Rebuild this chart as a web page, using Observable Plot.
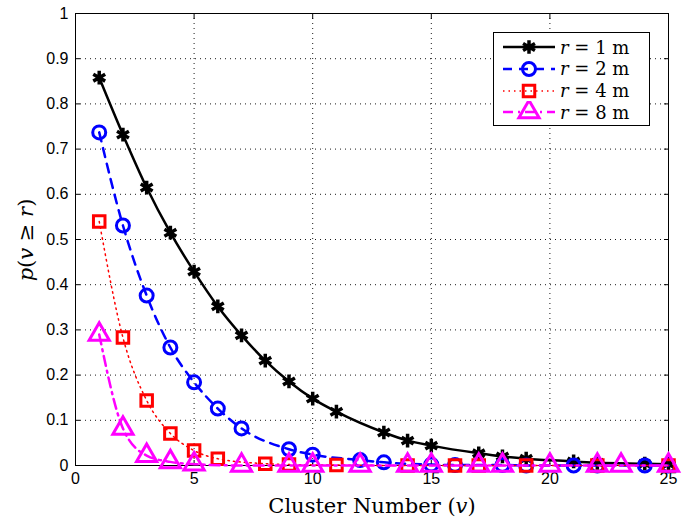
<!DOCTYPE html>
<html>
<head>
<meta charset="utf-8">
<script src="https://cdn.jsdelivr.net/npm/d3@7"></script>
<script src="https://cdn.jsdelivr.net/npm/@observablehq/plot@0.6"></script>
<style>
  body { margin: 0; background: #fff; }
  #wrap { position: relative; width: 697px; height: 521px; }
  #legend { position: absolute; left: 493px; top: 32px; width: 157px; height: 94px; border: 1.5px solid #000; background: #fff; box-sizing: border-box; }
  #legend .row { position: absolute; left: 0; height: 22px; display: flex; align-items: center; }
  #legend .lab { font-family: "DejaVu Serif", "Liberation Serif", serif; font-size: 18px; margin-left: 3px; white-space: nowrap; }
  #legend .lab i { font-style: italic; }
</style>
</head>
<body>
<div id="wrap"></div>
<script>
// ---- data ----
const seriesNames = ["r = 1 m", "r = 2 m", "r = 4 m", "r = 8 m"];
const r1x = [1,2,3,4,5,6,7,8,9,10,11,13,14,15,17,18,19,21,22,24,25];
const r1y = [0.858,0.732,0.615,0.515,0.429,0.352,0.288,0.232,0.186,0.148,0.119,0.073,0.055,0.044,0.027,0.020,0.015,0.009,0.006,0.004,0.003];
const r2x = [1,2,3,4,5,6,7,9,10,12,13,15,16,18,19,21,22,24,25];
const r2y = [0.737,0.531,0.376,0.261,0.184,0.126,0.082,0.036,0.024,0.012,0.007,0.002,0.001,0.001,0,0,0,0,0];
const r4x = [1,2,3,4,5,6,8,9,11,14,16,17,19,22,25];
const r4y = [0.540,0.283,0.144,0.071,0.033,0.015,0.004,0.002,0.001,0,0,0,0,0,0];
const r8x = [1,2,3,4,5,7,9,10,12,14,15,17,18,20,22,23,25];
const r8y = [0.290,0.082,0.022,0.008,0.003,0,0,0,0,0,0,0,0,0,0,0,0];
const xTicks = [0,5,10,15,20,25];
const yTicks = [0,0.1,0.2,0.3,0.4,0.5,0.6,0.7,0.8,0.9,1];
const yTickLabels = ["0","0.1","0.2","0.3","0.4","0.5","0.6","0.7","0.8","0.9","1"];

const mk = (xs, ys) => xs.map((x, i) => ({x, y: ys[i]}));
const d1 = mk(r1x, r1y), d2 = mk(r2x, r2y), d4 = mk(r4x, r4y), d8 = mk(r8x, r8y);

const tickFont = "Liberation Sans, Arial, sans-serif";

const chart = Plot.plot({
  width: 697,
  height: 521,
  marginLeft: 75,
  marginRight: 29,
  marginTop: 13,
  marginBottom: 56,
  style: {fontFamily: tickFont, fontSize: "16px", background: "#fff", color: "#000"},
  x: {domain: [0, 25], ticks: xTicks},
  y: {domain: [0, 1], ticks: yTicks},
  marks: [
    Plot.gridX(xTicks, {stroke: "#000", strokeOpacity: 0.9, strokeDasharray: "1,4"}),
    Plot.gridY(yTicks, {stroke: "#000", strokeOpacity: 0.9, strokeDasharray: "1,4"}),
    Plot.axisX(xTicks, {tickSize: -5, tickPadding: 12, label: null, fontSize: 16, stroke: "#000"}),
    Plot.axisX(xTicks, {anchor: "top", tickSize: -5, tickFormat: () => "", label: null}),
    Plot.axisY(yTicks, {tickSize: -5, tickPadding: 12, label: null, fontSize: 16, tickFormat: (d) => yTickLabels[yTicks.indexOf(d)]}),
    Plot.axisY(yTicks, {anchor: "right", tickSize: -5, tickFormat: () => "", label: null}),
    Plot.frame({stroke: "#000", strokeWidth: 1}),
    // r = 1 m
    Plot.line(d1, {x: "x", y: "y", stroke: "#000", strokeWidth: 2.5, curve: "monotone-x"}),
    Plot.dot(d1, {x: "x", y: "y", symbol: "asterisk", r: 6.5, stroke: "#000", strokeWidth: 3.5}),
    // r = 2 m
    Plot.line(d2, {x: "x", y: "y", stroke: "#0000ff", strokeWidth: 2.5, strokeDasharray: "9,7", curve: "monotone-x"}),
    Plot.dot(d2, {x: "x", y: "y", symbol: "circle", r: 6.5, stroke: "#0000ff", strokeWidth: 3, fill: "none"}),
    // r = 4 m
    Plot.line(d4, {x: "x", y: "y", stroke: "#ff0000", strokeWidth: 1.5, strokeDasharray: "1.5,4", curve: "monotone-x"}),
    Plot.dot(d4, {x: "x", y: "y", symbol: "square", r: 6.5, stroke: "#ff0000", strokeWidth: 3, fill: "none"}),
    // r = 8 m
    Plot.line(d8, {x: "x", y: "y", stroke: "#ff00ff", strokeWidth: 2.5, strokeDasharray: "10,5,2,5", curve: "monotone-x"}),
    Plot.dot(d8, {x: "x", y: "y", symbol: "triangle", r: 7.5, stroke: "#ff00ff", strokeWidth: 3, fill: "none"}),
    // x axis label
    Plot.text(["Cluster Number (v)"], {frameAnchor: "bottom", dy: 47, text: d => d, fontFamily: "DejaVu Serif, Liberation Serif, serif", fontSize: 21}),
  ]
});

const wrap = document.getElementById("wrap");
wrap.appendChild(chart);

// x label: make "v" italic
const svg = d3.select(chart);
svg.selectAll("text").filter(function() { return this.textContent === "Cluster Number (v)"; })
  .each(function() {
    const t = d3.select(this);
    t.text(null);
    t.append("tspan").text("Cluster Number (");
    t.append("tspan").attr("font-style", "italic").text("v");
    t.append("tspan").text(")");
  });

// y label (rotated), italic LaTeX-like
svg.append("text")
  .attr("transform", "translate(33,240) rotate(-90)")
  .attr("text-anchor", "middle")
  .attr("font-family", "DejaVu Serif, Liberation Serif, serif")
  .attr("font-size", 21)
  .call(t => {
    t.append("tspan").attr("font-style", "italic").text("p");
    t.append("tspan").text("(");
    t.append("tspan").attr("font-style", "italic").text("v");
    t.append("tspan").text(" ≥ ");
    t.append("tspan").attr("font-style", "italic").text("r");
    t.append("tspan").text(")");
  });

// legend
const legend = document.createElement("div");
legend.id = "legend";
wrap.appendChild(legend);
const legendStyles = [
  {stroke: "#000", dash: null, width: 2.5, symbol: d3.symbolAsterisk},
  {stroke: "#0000ff", dash: "9,7", width: 2.5, symbol: d3.symbolCircle},
  {stroke: "#ff0000", dash: "1.5,4", width: 1.5, symbol: d3.symbolSquare},
  {stroke: "#ff00ff", dash: "10,5,2,5", width: 2.5, symbol: d3.symbolTriangle}
];
const sizes = [6.5, 6.5, 6.5, 7.5];
seriesNames.forEach((name, i) => {
  const row = document.createElement("div");
  row.className = "row";
  row.style.top = (3 + i * 21.8) + "px";
  const s = legendStyles[i];
  const sv = d3.create("svg").attr("width", 63).attr("height", 22);
  sv.append("line").attr("x1", 9).attr("x2", 61).attr("y1", 11).attr("y2", 11)
    .attr("stroke", s.stroke).attr("stroke-width", s.width)
    .attr("stroke-dasharray", s.dash);
  const area = Math.PI * sizes[i] * sizes[i];
  sv.append("path").attr("d", d3.symbol(s.symbol, area)())
    .attr("transform", "translate(35,11)")
    .attr("fill", "none").attr("stroke", s.stroke).attr("stroke-width", i === 0 ? 3.5 : 3);
  row.appendChild(sv.node());
  const lab = document.createElement("span");
  lab.className = "lab";
  lab.innerHTML = "<i>r</i> = " + name.split(" = ")[1];
  row.appendChild(lab);
  legend.appendChild(row);
});
</script>
</body>
</html>
